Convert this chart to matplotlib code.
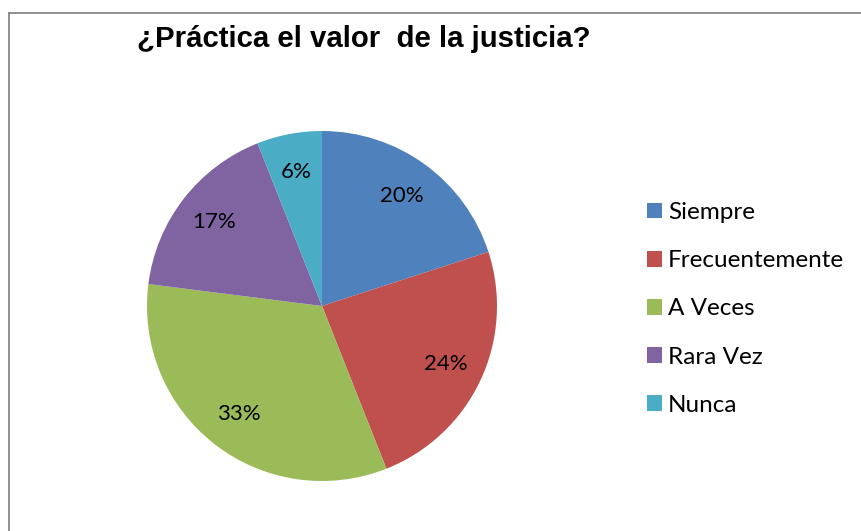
import matplotlib
matplotlib.use("Agg")
import matplotlib.pyplot as plt
from matplotlib.lines import Line2D

categories = ["Siempre", "Frecuentemente", "A Veces", "Rara Vez", "Nunca"]
values = [20, 24, 33, 17, 6]
colors = ["#4F81BD", "#C0504D", "#9BBB59", "#8064A2", "#4BACC6"]
title = "¿Práctica el valor  de la justicia?"

W, H = 862, 531
fig = plt.figure(figsize=(W / 100, H / 100), dpi=100)

# border (top and left visible)
fig.add_artist(Line2D([9 / W, 1.0], [1 - 13 / H, 1 - 13 / H], transform=fig.transFigure,
                      color="#868686", lw=1.3))
fig.add_artist(Line2D([9 / W, 9 / W], [1 - 13 / H, 0.0], transform=fig.transFigure,
                      color="#868686", lw=1.3))

cx, cy, r = 322, 306, 175
ax = fig.add_axes([(cx - r) / W, (H - cy - r) / H, 2 * r / W, 2 * r / H])
wedges, texts, autotexts = ax.pie(values, colors=colors, startangle=90, counterclock=False,
                                  autopct="%1.0f%%", pctdistance=0.78, radius=1.0,
                                  textprops=dict(fontsize=16, family="Lato", color="black"))
ax.set_xlim(-1, 1)
ax.set_ylim(-1, 1)
ax.set_aspect("equal")
ax.axis("off")

fig.text(364 / W, 1 - 39 / H, title, ha="center", va="center", fontsize=21.2,
         fontweight="bold", family="Liberation Sans")

leg = fig.legend(wedges, categories, loc="upper left", bbox_to_anchor=(647 / W, 1 - 202 / H),
                 frameon=False, prop=dict(family="Lato", size=17.5),
                 handlelength=0.62, handleheight=0.62, handletextpad=0.25, labelspacing=1.12,
                 borderaxespad=0, borderpad=0)

fig.savefig("out.png", dpi=100)
